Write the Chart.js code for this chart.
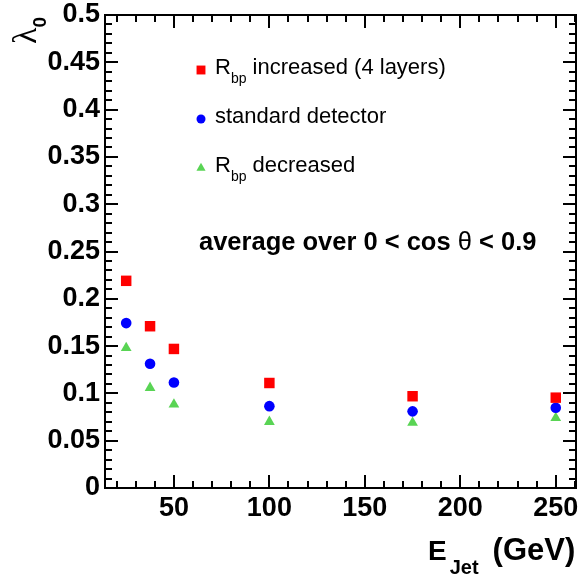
<!DOCTYPE html>
<html>
<head>
<meta charset="utf-8">
<script src="https://cdn.jsdelivr.net/npm/chart.js@4.4.1/dist/chart.umd.min.js"></script>
<style>
  html, body { margin: 0; padding: 0; background: #fff; }
  #wrap { width: 579px; height: 580px; }
</style>
</head>
<body>
<div id="wrap"><canvas id="lambda" width="579" height="580"></canvas></div>
<script>
// jet energies (GeV)
var energies = [25, 37.5, 50, 100, 175, 250];
// lambda_0 values
var rbpIncreased = [0.219, 0.171, 0.147, 0.111, 0.097, 0.0955];
var standardDet = [0.1743, 0.1313, 0.1115, 0.0865, 0.081, 0.0848];
var rbpDecreased = [0.1481, 0.1059, 0.0883, 0.070, 0.069, 0.074];

// tick positions (major ones get a label)
var xTickValues = [20, 30, 40, 50, 60, 70, 80, 90, 100, 110, 120, 130, 140, 150, 160, 170, 180, 190, 200, 210, 220, 230, 240, 250, 260];
var yTickValues = [];
for (var k = 0; k <= 50; k++) yTickValues.push(k / 100);

var FONT = "'Liberation Sans', Arial, Helvetica, sans-serif";
var RED = '#ff0000', BLUE = '#0000ff', GREEN = '#59d454';

function toPoints(ys) {
    return energies.map(function(e, i) { return { x: e, y: ys[i] }; });
}

function isMajorX(v) { return v % 50 === 0; }
function isMajorY(v) { return Math.round(v * 100) % 5 === 0; }

// draws a list of text pieces one after another on the same line
function drawParts(ctx, x, y, parts) {
    parts.forEach(function(p) {
        ctx.font = p.font;
        ctx.fillText(p.text, x, y + (p.dy || 0));
        x += ctx.measureText(p.text).width + (p.gap || 0);
    });
}

// grid lines become inward ticks at both ends: dash = [tick, gap, tick]
function tickDash(ctx, major, horizontalLine) {
    var a = ctx.chart.chartArea;
    if (!a) return [];
    var span = horizontalLine ? (a.right - a.left) : (a.bottom - a.top);
    var len = major ? 13 : 7;
    return [len, Math.max(span - 2 * len, 0)];
}

// legend, annotation, axis titles and frame
var rootText = {
    id: 'rootText',
    afterDraw: function(chart) {
        var c = chart.ctx;
        var a = chart.chartArea;
        c.save();
        c.strokeStyle = '#000';
        c.lineWidth = 2;
        c.strokeRect(a.left, a.top, a.right - a.left, a.bottom - a.top);

        var ds = chart.data.datasets;
        var legendY = [70, 119, 168];
        var texts = [
            [{ text: 'R', font: '22px ' + FONT }, { text: 'bp', font: '14px ' + FONT, dy: 9 }, { text: ' increased (4 layers)', font: '22px ' + FONT }],
            [{ text: 'standard detector', font: '22px ' + FONT }],
            [{ text: 'R', font: '22px ' + FONT }, { text: 'bp', font: '14px ' + FONT, dy: 9 }, { text: ' decreased', font: '22px ' + FONT }]
        ];
        c.textBaseline = 'alphabetic';
        c.textAlign = 'left';
        ds.forEach(function(d, i) {
            c.fillStyle = d.backgroundColor;
            Chart.helpers.drawPoint(c, {
                pointStyle: d.pointStyle,
                radius: d.pointRadius * 0.85,
                borderWidth: 0
            }, 201, legendY[i]);
            c.fillStyle = '#000';
            drawParts(c, 215, legendY[i] + 4, texts[i]);
        });

        drawParts(c, 199, 250, [
            { text: 'average over 0 < cos ', font: 'bold 25.5px ' + FONT },
            { text: '\u03b8', font: '25.5px ' + FONT },
            { text: ' < 0.9', font: 'bold 25.5px ' + FONT }
        ]);

        drawParts(c, 428, 560, [
            { text: 'E', font: 'bold 28px ' + FONT, gap: 3 },
            { text: 'Jet', font: 'bold 20px ' + FONT, dy: 14, gap: 14 },
            { text: '(GeV)', font: 'bold 31px ' + FONT }
        ]);

        c.translate(36, 44);
        c.rotate(-Math.PI / 2);
        drawParts(c, 0, 0, [
            { text: '\u03bb', font: "34px 'Liberation Serif', serif" },
            { text: '0', font: 'bold 19px ' + FONT, dy: 10 }
        ]);
        c.restore();
    }
};

var ctx = document.getElementById('lambda').getContext('2d');
var chart = new Chart(ctx, {
    type: 'scatter',
    data: {
        datasets: [
            { label: 'R_bp increased (4 layers)', data: toPoints(rbpIncreased), pointStyle: 'rect', pointRadius: 7.4, backgroundColor: RED, borderWidth: 0 },
            { label: 'standard detector', data: toPoints(standardDet), pointStyle: 'circle', pointRadius: 5.3, backgroundColor: BLUE, borderWidth: 0 },
            { label: 'R_bp decreased', data: toPoints(rbpDecreased), pointStyle: 'triangle', pointRadius: 6.2, backgroundColor: GREEN, borderWidth: 0 }
        ]
    },
    options: {
        responsive: false,
        devicePixelRatio: 1,
        animation: false,
        layout: { autoPadding: false, padding: { left: 0, right: 3, top: 15, bottom: 0 } },
        plugins: { legend: { display: false }, tooltip: { enabled: false } },
        scales: {
            x: {
                type: 'linear',
                min: 13.9,
                max: 260.6,
                grid: { display: true, drawOnChartArea: true, drawTicks: false, color: '#000', lineWidth: 2 },
                border: {
                    display: false,
                    dash: function(c) { return tickDash(c, c.tick ? isMajorX(c.tick.value) : false, false); }
                },
                afterBuildTicks: function(s) { s.ticks = xTickValues.map(function(v) { return { value: v }; }); },
                afterFit: function(s) { s.height = 92; s.paddingLeft = 0; s.paddingRight = 0; },
                ticks: {
                    color: '#000',
                    padding: 0,
                    autoSkip: false,
                    maxRotation: 0,
                    minRotation: 0,
                    font: { family: FONT, size: 27, weight: 'bold', lineHeight: 1.5 },
                    callback: function(v) { return isMajorX(v) ? String(v) : ''; }
                }
            },
            y: {
                type: 'linear',
                min: 0,
                max: 0.5,
                grid: { display: true, drawOnChartArea: true, drawTicks: false, color: '#000', lineWidth: 2 },
                border: {
                    display: false,
                    dash: function(c) { return tickDash(c, c.tick ? isMajorY(c.tick.value) : false, true); }
                },
                afterBuildTicks: function(s) { s.ticks = yTickValues.map(function(v) { return { value: v }; }); },
                afterFit: function(s) { s.width = 105; s.paddingTop = 0; s.paddingBottom = 0; },
                ticks: {
                    color: '#000',
                    padding: 5,
                    autoSkip: false,
                    font: { family: FONT, size: 27, weight: 'bold' },
                    callback: function(v) { return isMajorY(v) ? String(Number(v.toFixed(2))) : ''; }
                }
            }
        }
    },
    plugins: [rootText]
});
</script>
</body>
</html>
